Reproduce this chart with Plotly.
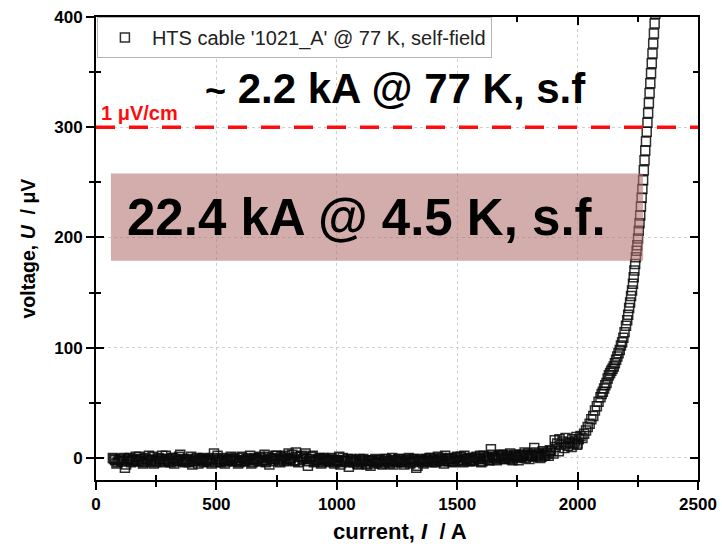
import plotly.graph_objects as go

# ---------------- data ----------------
current_flat_A = [
    70, 80, 90, 100, 110, 120, 130, 140, 150, 160,
    170, 180, 190, 200, 210, 220, 230, 240, 250, 260,
    270, 280, 290, 300, 310, 320, 330, 340, 350, 360,
    370, 380, 390, 400, 410, 420, 430, 440, 450, 460,
    470, 480, 490, 500, 510, 520, 530, 540, 550, 560,
    570, 580, 590, 600, 610, 620, 630, 640, 650, 660,
    670, 680, 690, 700, 710, 720, 730, 740, 750, 760,
    770, 780, 790, 800, 810, 820, 830, 840, 850, 860,
    870, 880, 890, 900, 910, 920, 930, 940, 950, 960,
    970, 980, 990, 1000, 1010, 1020, 1030, 1040, 1050, 1060,
    1070, 1080, 1090, 1100, 1110, 1120, 1130, 1140, 1150, 1160,
    1170, 1180, 1190, 1200, 1210, 1220, 1230, 1240, 1250, 1260,
    1270, 1280, 1290, 1300, 1310, 1320, 1330, 1340, 1350, 1360,
    1370, 1380, 1390, 1400, 1410, 1420, 1430, 1440, 1450, 1460,
    1470, 1480, 1490, 1500, 1510, 1520, 1530, 1540, 1550, 1560,
    1570, 1580, 1590, 1600, 1610, 1620, 1630, 1640, 1650, 1660,
    1670, 1680, 1690, 1700, 1710, 1720, 1730, 1740, 1750, 1760,
    1770, 1780, 1790, 1800, 1810, 1820, 1830, 1840, 1850, 1860,
    1870, 1880, 1890,
]
voltage_flat_uV = [
    0, -2, -4, -1, -3, -9, -2, 0, -3, -1,
    -2, 1, -3, -4, -1, 2, -2, -5, -3, 0,
    -1, -3, 2, -2, -4, 0, -1, -3, 3, -2,
    -4, -1, -2, -6, -3, 0, -2, -1, -4, -2,
    -3, -5, 4, -1, -2, -4, 0, -3, -2, 1,
    -1, -3, -5, -2, 0, -3, -1, 2, -4, -2,
    -1, 1, -3, 3, -2, -6, 0, -1, 2, -2,
    1, -3, -1, 4, 0, -2, 5, -4, 1, -1,
    4, -7, -1, 2, -3, -2, 0, -4, -1, -2,
    -3, 0, -5, -2, 1, -4, -2, -3, -8, -1,
    -4, -2, -6, -3, -1, -5, -2, -7, -3, -1,
    -4, -2, -6, -1, -3, -5, 0, -2, -4, -1,
    -3, -6, -2, 0, -4, -1, -9, -3, -2, -5,
    -1, -3, 0, -2, -4, 1, -1, -3, 2, -2,
    0, -4, -1, 1, -3, -2, 2, -1, -3, 0,
    -2, 1, -1, -4, 2, 0, -2, 8, 1, -1,
    2, 0, 3, -1, 1, 4, -2, 2, 0, 3,
    1, 5, 2, -1, 3, 9, 2, 4, 1, 3,
    5, 2, 6,
]
current_flat2_A = [
    75, 85, 95, 105, 115, 125, 135, 145, 155, 165,
    175, 185, 195, 205, 215, 225, 235, 245, 255, 265,
    275, 285, 295, 305, 315, 325, 335, 345, 355, 365,
    375, 385, 395, 405, 415, 425, 435, 445, 455, 465,
    475, 485, 495, 505, 515, 525, 535, 545, 555, 565,
    575, 585, 595, 605, 615, 625, 635, 645, 655, 665,
    675, 685, 695, 705, 715, 725, 735, 745, 755, 765,
    775, 785, 795, 805, 815, 825, 835, 845, 855, 865,
    875, 885, 895, 905, 915, 925, 935, 945, 955, 965,
    975, 985, 995, 1005, 1015, 1025, 1035, 1045, 1055, 1065,
    1075, 1085, 1095, 1105, 1115, 1125, 1135, 1145, 1155, 1165,
    1175, 1185, 1195, 1205, 1215, 1225, 1235, 1245, 1255, 1265,
    1275, 1285, 1295, 1305, 1315, 1325, 1335, 1345, 1355, 1365,
    1375, 1385, 1395, 1405, 1415, 1425, 1435, 1445, 1455, 1465,
    1475, 1485, 1495, 1505, 1515, 1525, 1535, 1545, 1555, 1565,
    1575, 1585, 1595, 1605, 1615, 1625, 1635, 1645, 1655, 1665,
    1675, 1685, 1695, 1705, 1715, 1725, 1735, 1745, 1755, 1765,
    1775, 1785, 1795, 1805, 1815, 1825, 1835, 1845, 1855, 1865,
    1875, 1885,
]
voltage_flat2_uV = [
    -1, -5, -2, -3, 0, -6, -1, -4, -2, 1,
    -3, -1, -5, 0, -2, -3, 1, -4, -1, -2,
    2, -4, -1, -3, 0, -5, -2, 1, -3, -1,
    -2, -4, 1, -3, -1, -5, -2, 0, -3, -1,
    -2, 0, -4, 2, -3, -1, -5, -2, -1, -3,
    0, -2, -4, 1, -3, -1, -2, -5, 0, -1,
    -3, 0, -2, -4, 1, -1, -3, 2, -1, -4,
    0, 2, -2, -1, 3, -3, 1, -2, 2, 0,
    -1, -3, 1, -4, -2, -1, -5, 0, -3, -2,
    -1, -4, -2, -3, -6, 0, -3, -1, -4, -2,
    -3, -5, -1, -4, -2, -6, -3, -2, -5, -4,
    -2, -5, -3, -1, -4, -2, -6, -3, -1, -4,
    -2, -4, -1, -5, -3, -2, -7, -1, -4, -3,
    -2, 0, -4, -1, -3, -2, 0, -5, -1, -3,
    -1, -3, 0, -2, 1, -4, -1, 0, -2, -3,
    0, -1, 2, -3, -1, 1, -2, 3, 0, -2,
    1, 3, -1, 2, 0, -1, 3, 1, -2, 2,
    3, 0, 4, 2, 1, 5, 3, 0, 6, 2,
    4, 7,
]
current_rise_A = [
    1900, 1905, 1908, 1915, 1922, 1925, 1930, 1937, 1945, 1950, 1952, 1960,
    1968, 1975, 1978, 1983, 1990, 1995, 1998, 2000, 2005, 2012, 2020, 2027,
    2035, 2042, 2050, 2057, 2065, 2072, 2080, 2087, 2095,
    2100, 2105, 2110, 2115, 2120, 2125, 2130, 2135, 2140, 2145, 2150, 2155,
    2160, 2165, 2170, 2175, 2180, 2185, 2190, 2195,
    2201, 2206, 2210, 2214, 2218, 2222, 2226, 2230, 2233, 2236, 2239, 2242,
    2245, 2248, 2251, 2254, 2257, 2260, 2263, 2266, 2269, 2272, 2275, 2278,
    2281, 2284, 2287, 2290, 2293, 2296, 2299, 2302, 2305, 2308, 2311, 2314,
    2317, 2320, 2323,
]
voltage_rise_uV = [
    4, 16, 10, 13, 6, 17, 12, 15, 9, 18, 13, 11,
    14, 10, 17, 13, 15, 19, 12, 13, 17, 20, 18, 22,
    25, 28, 31, 35, 38, 43, 47, 51, 55,
    58, 60, 63, 66, 68, 72, 75, 77, 79, 81, 83, 86,
    89, 92, 95, 98, 102, 105, 109, 114,
    120, 125, 130, 136, 141, 147, 152, 158, 164, 170, 176, 182,
    188, 193, 199, 206, 213, 220, 228, 236, 244, 252, 261, 270,
    279, 287, 296, 304, 313, 322, 331, 340, 349, 358, 367, 376,
    385, 394, 403,
]
current_A = current_flat_A + current_flat2_A + current_rise_A
voltage_uV = voltage_flat_uV + voltage_flat2_uV + voltage_rise_uV

series_name = "HTS cable '1021_A' @ 77 K, self-field"
criterion_uV = 300
criterion_label = "1 μV/cm"
note_77K = "<span style='font-size:36px'>~</span> 2.2 kA @ 77 K, s.f"
note_45K = "22.4 kA @ 4.5 K, s.f."
x_title = "current, <i>I</i>  / A"
y_title = "voltage, <i>U</i>  / μV"
x_range = [0, 2500]
y_range = [-20, 400]

FONT = "Liberation Sans, Arial, sans-serif"

fig = go.Figure()
fig.add_trace(go.Scatter(
    x=current_A, y=voltage_uV, mode="markers", name=series_name,
    marker=dict(symbol="square-open", size=9, color="rgba(10,10,10,0.85)",
                line=dict(width=1.5)),
))
# helper trace for the overlaid tick axes (inside ticks)
fig.add_trace(go.Scatter(
    x=current_A, y=voltage_uV, mode="markers", xaxis="x2", yaxis="y2",
    marker=dict(opacity=0), showlegend=False, hoverinfo="skip",
))

tickfont = dict(family=FONT, size=17, color="black", weight="bold")
common = dict(showline=True, linecolor="black", linewidth=2, zeroline=False,
              tickcolor="black", tickwidth=2, automargin=False)

fig.update_layout(
    width=722, height=546,
    margin=dict(l=96, r=24, t=17, b=66),
    paper_bgcolor="white", plot_bgcolor="white",
    font=dict(family=FONT, color="black"),
    showlegend=True,
    legend=dict(x=0.0015, y=1.0, xanchor="left", yanchor="top",
                bgcolor="white", bordercolor="#b5b5b5", borderwidth=1,
                itemwidth=44,
                font=dict(family=FONT, size=20, color="#222")),
    xaxis=dict(range=x_range, dtick=500, tick0=0, ticks="outside", ticklen=8,
               mirror=True, showgrid=True, gridcolor="#cfcfcf", griddash="dot",
               gridwidth=1, tickfont=tickfont,
               minor=dict(dtick=250, ticks="outside", ticklen=5, tickwidth=2,
                          tickcolor="black", showgrid=False),
               **common),
    yaxis=dict(range=y_range, dtick=100, tick0=0, ticks="outside", ticklen=8,
               mirror=True, showgrid=True, gridcolor="#cfcfcf", griddash="dot",
               gridwidth=1, tickfont=tickfont,
               minor=dict(dtick=50, ticks="outside", ticklen=5, tickwidth=2,
                          tickcolor="black", showgrid=False),
               **common),
    xaxis2=dict(range=x_range, dtick=500, tick0=0, overlaying="x", anchor="y2",
                side="bottom", ticks="inside", ticklen=8, mirror="ticks",
                showticklabels=False, showgrid=False,
                minor=dict(dtick=250, ticks="inside", ticklen=5, tickwidth=2,
                           tickcolor="black"),
                **common),
    yaxis2=dict(range=y_range, dtick=100, tick0=0, overlaying="y", anchor="x2",
                side="left", ticks="inside", ticklen=8, mirror="ticks",
                showticklabels=False, showgrid=False,
                minor=dict(dtick=50, ticks="inside", ticklen=5, tickwidth=2,
                           tickcolor="black"),
                **common),
)

fig.add_shape(type="line", xref="paper", yref="y", x0=0, x1=1,
              y0=criterion_uV, y1=criterion_uV, layer="above",
              line=dict(color="#ff0d0d", width=3.5, dash="19px,14px"))
fig.add_shape(type="rect", xref="x", yref="y", x0=62, x1=2272, y0=179, y1=258,
              layer="above", line=dict(width=0),
              fillcolor="rgba(176,111,108,0.57)")

fig.add_annotation(x=182, y=313, xref="x", yref="y", text=criterion_label,
                   showarrow=False,
                   font=dict(family=FONT, size=20, color="#ff0d0d", weight="bold"))
fig.add_annotation(x=1245, y=335, xref="x", yref="y", text=note_77K,
                   showarrow=False,
                   font=dict(family=FONT, size=42, color="black", weight="bold"))
fig.add_annotation(x=1125, y=218, xref="x", yref="y", text=note_45K,
                   showarrow=False,
                   font=dict(family=FONT, size=51, color="black", weight="bold"))

# axis titles
fig.add_annotation(x=0.505, y=-0.112, xref="paper", yref="paper", text=x_title,
                   showarrow=False, xanchor="center", yanchor="middle",
                   font=dict(family=FONT, size=22, color="black", weight="bold"))
fig.add_annotation(x=-0.113, y=0.50, xref="paper", yref="paper", text=y_title,
                   showarrow=False, xanchor="center", yanchor="middle",
                   textangle=-90,
                   font=dict(family=FONT, size=19.5, color="black", weight="bold"))

fig.write_html("out.html")
